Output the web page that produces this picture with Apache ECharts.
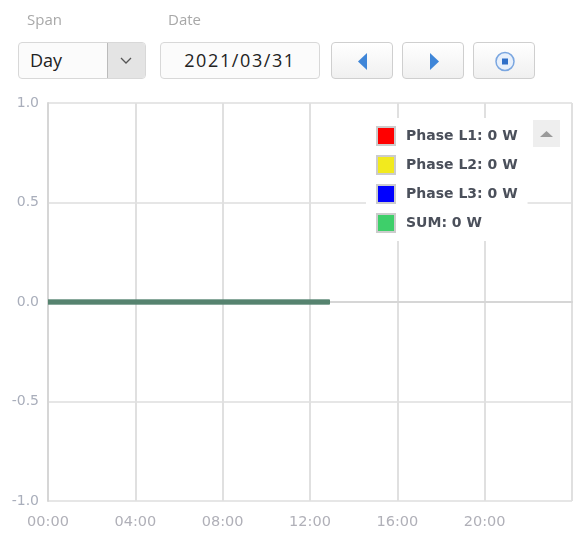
<!DOCTYPE html>
<html>
<head>
<meta charset="utf-8">
<script src="https://cdn.jsdelivr.net/npm/echarts@6/dist/echarts.min.js"></script>
<style>
    body { margin: 0; background: #fff; font-family: 'Open Sans', sans-serif; }
    #wrap { position: relative; width: 588px; height: 541px; }
    #chart { position: absolute; left: 0; top: 0; width: 588px; height: 541px; }
    .lbl { position: absolute; top: 9px; font-size: 15px; color: #a8a8a8; }
    .box { position: absolute; top: 42px; height: 37px; border: 1px solid #d8d8d8; border-radius: 4px;
           background: #fbfbfb; box-sizing: border-box; font-size: 18px; color: #222; line-height: 35px; }
    .btn { position: absolute; top: 42px; width: 62px; height: 37px; border: 1px solid #cfcfcf; border-radius: 4px;
           background: linear-gradient(#ffffff, #f0f0f0); box-sizing: border-box; }
</style>
</head>
<body>
<div id="wrap">
    <div id="chart"></div>
    <div class="lbl" style="left:27px">Span</div>
    <div class="lbl" style="left:168px">Date</div>
    <div class="box" style="left:18px;width:128px;padding-left:11px">Day
        <div style="position:absolute;right:0;top:0;width:37px;height:35px;background:#e4e4e4;border-left:1px solid #bbb;border-radius:0 3px 3px 0">
            <svg width="37" height="35"><polyline points="13,15 18,20 23,15" fill="none" stroke="#555" stroke-width="1.3"/></svg>
        </div>
    </div>
    <div class="box" style="left:160px;width:160px;text-align:center;letter-spacing:1.6px">2021/03/31</div>
    <div class="btn" style="left:331px"><svg width="62" height="37"><polygon points="35,10 35,27 26,18.5" fill="#3f86d8"/></svg></div>
    <div class="btn" style="left:402px"><svg width="62" height="37"><polygon points="27,10 27,27 36,18.5" fill="#3f86d8"/></svg></div>
    <div class="btn" style="left:473px"><svg width="62" height="37"><circle cx="31" cy="18.5" r="9" fill="#e8f0fb" stroke="#7aa6e0" stroke-width="1.5"/><rect x="28" y="15.5" width="6" height="6" fill="#2f6fc8"/></svg></div>
</div>
<script>
// Daten
var seriesNames = ['Phase L1: 0 W', 'Phase L2: 0 W', 'Phase L3: 0 W', 'SUM: 0 W'];
var legendColors = ['#ff0000', '#f2ea1e', '#0000ff', '#3ecf6a'];
var hours = [0, 1, 2, 3, 4, 5, 6, 7, 8, 9, 10, 11, 12, 12.9];
var valuesL1 = [0, 0, 0, 0, 0, 0, 0, 0, 0, 0, 0, 0, 0, 0];
var valuesL2 = [0, 0, 0, 0, 0, 0, 0, 0, 0, 0, 0, 0, 0, 0];
var valuesL3 = [0, 0, 0, 0, 0, 0, 0, 0, 0, 0, 0, 0, 0, 0];
var valuesSum = [0, 0, 0, 0, 0, 0, 0, 0, 0, 0, 0, 0, 0, 0];
var yTicks = [-1, -0.5, 0, 0.5, 1];

function pairs(vals) {
    return hours.map(function (h, i) { return [h, vals[i]]; });
}

var myChart = echarts.init(document.getElementById('chart'));
var allValues = [valuesL1, valuesL2, valuesL3, valuesSum];

var option = {
    animation: false,
    textStyle: { fontFamily: 'DejaVu Sans' },
    grid: { left: 48, right: 16, top: 103, bottom: 40 },
    legend: {
        orient: 'vertical',
        left: 366,
        top: 118,
        itemWidth: 18,
        itemHeight: 18,
        itemGap: 9,
        padding: [8, 10, 8, 10],
        backgroundColor: '#ffffff',
        icon: 'rect',
        itemStyle: { borderColor: '#cccccc', borderWidth: 2 },
        textStyle: {
            fontSize: 14, color: '#4b505b', fontWeight: 'bold', fontFamily: 'DejaVu Sans',
            padding: [0, 0, 0, 6]
        },
        data: seriesNames
    },
    xAxis: {
        type: 'value',
        min: 0,
        max: 24,
        interval: 4,
        axisLine: { show: true, lineStyle: { color: '#d6d6d6', width: 2 } },
        axisTick: { show: false },
        splitLine: { show: true, lineStyle: { color: '#e0e0e0', width: 2 } },
        axisLabel: {
            color: '#b0b0b8', fontSize: 14.5, margin: 14, showMaxLabel: false,
            formatter: function (v) { return (v < 10 ? '0' : '') + v + ':00'; }
        }
    },
    yAxis: {
        type: 'value',
        min: yTicks[0],
        max: yTicks[yTicks.length - 1],
        interval: 0.5,
        axisLine: { show: true, lineStyle: { color: '#d6d6d6', width: 2 } },
        axisTick: { show: false },
        splitLine: { show: true, lineStyle: { color: '#e6e6e6', width: 2 } },
        axisLabel: {
            color: '#a9aebb', fontSize: 14, margin: 9,
            formatter: function (v) { return v.toFixed(1); }
        }
    },
    graphic: [{
        type: 'group',
        left: 533,
        top: 120,
        children: [
            { type: 'rect', shape: { x: 0, y: 0, width: 27, height: 27 }, style: { fill: '#eeeeee' } },
            { type: 'polygon', shape: { points: [[7, 17], [20, 17], [13.5, 11]] }, style: { fill: '#9a9a9a' } }
        ]
    }],
    series: seriesNames.map(function (name, i) {
        return {
            name: name,
            type: 'line',
            symbol: 'none',
            itemStyle: { color: legendColors[i] },
            lineStyle: { color: '#56836f', width: 4.5 },
            data: pairs(allValues[i])
        };
    })
};

myChart.setOption(option);
</script>
</body>
</html>
